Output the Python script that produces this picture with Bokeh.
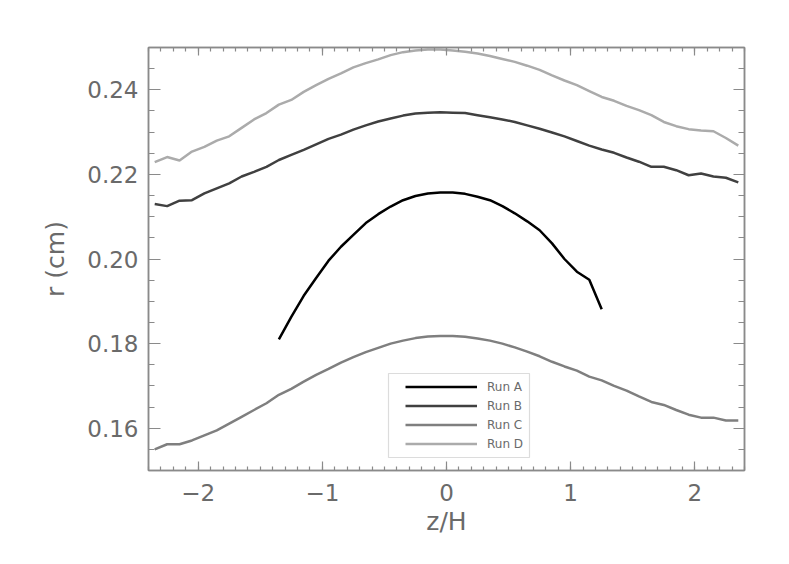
from bokeh.plotting import figure
from bokeh.models import (Range1d, LinearAxis, SingleIntervalTicker, Legend, LegendItem,
                          BoxAnnotation, PrintfTickFormatter, CustomJSTickFormatter)
from bokeh.embed import file_html
from bokeh.resources import INLINE

# ---- data ----
z_full = [-2.35, -2.25, -2.15, -2.05, -1.95, -1.85, -1.75, -1.65, -1.55, -1.45,
          -1.35, -1.25, -1.15, -1.05, -0.95, -0.85, -0.75, -0.65, -0.55, -0.45,
          -0.35, -0.25, -0.15, -0.05, 0.05, 0.15, 0.25, 0.35, 0.45, 0.55,
          0.65, 0.75, 0.85, 0.95, 1.05, 1.15, 1.25, 1.35, 1.45, 1.55,
          1.65, 1.75, 1.85, 1.95, 2.05, 2.15, 2.25, 2.35]

z_a = [-1.35, -1.25, -1.15, -1.05, -0.95, -0.85, -0.75, -0.65, -0.55, -0.45,
       -0.35, -0.25, -0.15, -0.05, 0.05, 0.15, 0.25, 0.35, 0.45, 0.55,
       0.65, 0.75, 0.85, 0.95, 1.05, 1.15, 1.25]
r_a = [0.1810, 0.1863, 0.1913, 0.1955, 0.1996, 0.2029, 0.2057, 0.2085, 0.2106, 0.2124,
       0.2139, 0.2149, 0.2155, 0.2157, 0.2157, 0.2154, 0.2147, 0.2139, 0.2125, 0.2108,
       0.2089, 0.2068, 0.2037, 0.2000, 0.1970, 0.1951, 0.1881]

r_b = [0.2130, 0.2125, 0.2138, 0.2139, 0.2155, 0.2167, 0.2179, 0.2195, 0.2206, 0.2218,
       0.2234, 0.2246, 0.2258, 0.2271, 0.2284, 0.2294, 0.2306, 0.2316, 0.2325, 0.2332,
       0.2339, 0.2344, 0.2346, 0.2347, 0.2346, 0.2345, 0.2340, 0.2335, 0.2330, 0.2324,
       0.2316, 0.2308, 0.2299, 0.2290, 0.2279, 0.2268, 0.2259, 0.2251, 0.2240, 0.2230,
       0.2218, 0.2218, 0.2210, 0.2198, 0.2202, 0.2195, 0.2192, 0.2181]

r_c = [0.1550, 0.1562, 0.1562, 0.1571, 0.1583, 0.1595, 0.1611, 0.1627, 0.1643, 0.1659,
       0.1679, 0.1693, 0.1710, 0.1726, 0.1740, 0.1755, 0.1768, 0.1780, 0.1790, 0.1800,
       0.1807, 0.1813, 0.1817, 0.1818, 0.1818, 0.1816, 0.1812, 0.1807, 0.1800, 0.1791,
       0.1781, 0.1770, 0.1757, 0.1746, 0.1736, 0.1722, 0.1713, 0.1700, 0.1689, 0.1675,
       0.1662, 0.1655, 0.1643, 0.1632, 0.1625, 0.1625, 0.1618, 0.1618]

r_d = [0.2229, 0.2241, 0.2233, 0.2254, 0.2265, 0.2280, 0.2290, 0.2310, 0.2330, 0.2345,
       0.2365, 0.2376, 0.2395, 0.2411, 0.2426, 0.2439, 0.2453, 0.2463, 0.2472, 0.2482,
       0.2489, 0.2493, 0.2495, 0.2495, 0.2493, 0.2490, 0.2486, 0.2480, 0.2473, 0.2466,
       0.2457, 0.2447, 0.2434, 0.2422, 0.2411, 0.2397, 0.2383, 0.2374, 0.2362, 0.2352,
       0.2340, 0.2324, 0.2314, 0.2307, 0.2304, 0.2302, 0.2286, 0.2268]

series_names = ["Run A", "Run B", "Run C", "Run D"]
series_colors = ["#000000", "#404040", "#7f7f7f", "#ababab"]

x_tick_labels = {-2: "\u22122", -1: "\u22121", 0: "0", 1: "1", 2: "2"}

AX = "#8a8a8a"
TXT = "#6a6a6a"
FONT = "DejaVu Sans"

p = figure(width=773, height=548, output_backend="svg", toolbar_location=None,
           x_range=Range1d(-2.4, 2.4), y_range=Range1d(0.15, 0.25),
           x_axis_location=None, y_axis_location=None,
           min_border_left=148, min_border_right=29, min_border_top=47, min_border_bottom=78)
p.grid.visible = False
p.outline_line_color = AX
p.outline_line_width = 1.5
p.background_fill_color = "white"
p.border_fill_color = "white"


def make_axis(kind):
    if kind == "x":
        ax = LinearAxis(ticker=SingleIntervalTicker(interval=1, num_minor_ticks=10))
    else:
        ax = LinearAxis(ticker=SingleIntervalTicker(interval=0.02, num_minor_ticks=4))
    ax.axis_line_color = AX
    ax.axis_line_width = 1.5
    ax.major_tick_line_color = AX
    ax.minor_tick_line_color = AX
    ax.major_tick_line_width = 1.2
    ax.minor_tick_line_width = 1.2
    ax.major_tick_out = 0
    ax.minor_tick_out = 0
    ax.major_label_text_color = TXT
    ax.major_label_text_font = FONT
    ax.major_label_text_font_size = "23px"
    ax.axis_label_text_color = TXT
    ax.axis_label_text_font = FONT
    ax.axis_label_text_font_size = "25px"
    ax.axis_label_text_font_style = "normal"
    return ax


blank = CustomJSTickFormatter(code="return ''")

xb = make_axis("x")
xb.major_tick_in = 9
xb.minor_tick_in = 4
xb.major_label_overrides = x_tick_labels
xb.major_label_standoff = 13
xb.axis_label = "z/H"
xb.axis_label_standoff = 3
p.add_layout(xb, "below")

xa = make_axis("x")
xa.major_tick_in = 8
xa.minor_tick_in = 4
xa.formatter = CustomJSTickFormatter(code="return ''")
xa.major_label_text_font_size = "10px"
xa.major_label_standoff = 0
p.add_layout(xa, "above")

yl = make_axis("y")
yl.major_tick_in = 12
yl.minor_tick_in = 6
yl.formatter = PrintfTickFormatter(format="%.2f")
yl.major_label_standoff = 10
yl.axis_label = "r (cm)"
yl.axis_label_standoff = 14
p.add_layout(yl, "left")

yr = make_axis("y")
yr.major_tick_in = 11
yr.minor_tick_in = 6
yr.formatter = CustomJSTickFormatter(code="return ''")
yr.major_label_text_font_size = "10px"
yr.major_label_standoff = 0
p.add_layout(yr, "right")

xs = [z_a, z_full, z_full, z_full]
ys = [r_a, r_b, r_c, r_d]
items = []
for name, col, xv, yv in zip(series_names, series_colors, xs, ys):
    r = p.line(xv, yv, line_color=col, line_width=2.5)
    items.append(LegendItem(label=name, renderers=[r]))

box = BoxAnnotation(left=240, right=381, bottom=13, top=97,
                    left_units="screen", right_units="screen",
                    bottom_units="screen", top_units="screen",
                    fill_color=None, fill_alpha=0, line_color=AX, line_width=1.2)
p.add_layout(box)

legend = Legend(items=items, location=(257, 17), padding=0, margin=0, spacing=0,
                glyph_width=72, glyph_height=19, label_height=19, label_standoff=10,
                label_text_font=FONT, label_text_font_size="12px", label_text_color=TXT,
                border_line_color=None, background_fill_alpha=0)
p.add_layout(legend, "center")

open("out.html", "w").write(file_html(p, INLINE))
